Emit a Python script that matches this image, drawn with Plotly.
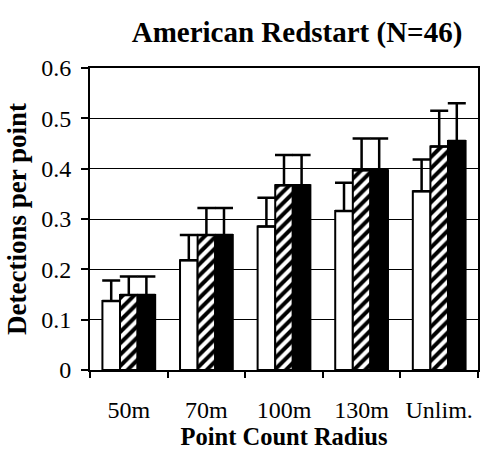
import plotly.graph_objects as go

categories = ["50m", "70m", "100m", "130m", "Unlim."]
series_names = ["Series A", "Series B", "Series C"]
values_a = [0.137, 0.218, 0.285, 0.316, 0.355]
upper_a = [0.178, 0.268, 0.342, 0.372, 0.418]
values_b = [0.149, 0.268, 0.367, 0.397, 0.444]
upper_b = [0.186, 0.322, 0.427, 0.460, 0.515]
values_c = [0.149, 0.268, 0.367, 0.397, 0.455]
upper_c = [0.186, 0.322, 0.427, 0.460, 0.530]
y_ticks = [0, 0.1, 0.2, 0.3, 0.4, 0.5, 0.6]
y_tick_labels = ["0", "0.1", "0.2", "0.3", "0.4", "0.5", "0.6"]

FONT = "Liberation Serif"

def err(vals, ups):
    return dict(type="data", symmetric=False,
                array=[u - v for u, v in zip(ups, vals)],
                arrayminus=[0] * len(vals),
                color="black", thickness=2.5, width=9)

fig = go.Figure()
fig.add_trace(go.Bar(x=categories, y=values_a, name=series_names[0],
                     marker=dict(color="white", line=dict(color="black", width=2)),
                     error_y=err(values_a, upper_a)))
fig.add_trace(go.Bar(x=categories, y=values_b, name=series_names[1],
                     marker=dict(color="white", line=dict(color="black", width=2),
                                 pattern=dict(shape="/", fgcolor="black", bgcolor="white",
                                              size=8, solidity=0.5, fillmode="replace")),
                     error_y=err(values_b, upper_b)))
fig.add_trace(go.Bar(x=categories, y=values_c, name=series_names[2],
                     marker=dict(color="black", line=dict(color="black", width=2)),
                     error_y=err(values_c, upper_c)))

fig.update_layout(
    width=480, height=454,
    margin=dict(l=90, r=2, t=68, b=84, autoexpand=False),
    paper_bgcolor="white", plot_bgcolor="white",
    barmode="group", bargap=0.32, bargroupgap=0,
    showlegend=False,
    font=dict(family=FONT, color="black", size=24),
    title=dict(text="<b>American Redstart (N=46)</b>", x=297 / 480, xanchor="center",
               y=1 - 32 / 454, yanchor="middle", xref="container", yref="container",
               font=dict(family=FONT, size=29, color="black")),
    xaxis=dict(type="category", categoryorder="array", categoryarray=categories,
               range=[-0.5, 4.5], automargin=False,
               showline=True, linecolor="black", linewidth=2, mirror=True,
               ticks="outside", tickson="boundaries", ticklen=6, tickwidth=1.5,
               tickcolor="black", ticklabelstandoff=17,
               tickfont=dict(family=FONT, size=24, color="black"),
               title=dict(text="<b>Point Count Radius</b>", standoff=5,
                          font=dict(family=FONT, size=24.5, color="black")),
               showgrid=False),
    xaxis2=dict(type="category", categoryorder="array", categoryarray=categories,
                overlaying="x", matches="x", side="bottom", anchor="y",
                showline=False, ticks="inside", tickson="boundaries", ticklen=5,
                tickwidth=1.5, tickcolor="black", showticklabels=False,
                showgrid=False),
    yaxis=dict(range=[0, 0.6], tickvals=y_ticks, ticktext=y_tick_labels,
               automargin=False,
               showline=True, linecolor="black", linewidth=2, mirror=True,
               ticks="outside", ticklen=7, tickwidth=1.5, tickcolor="black",
               ticklabelstandoff=5,
               tickfont=dict(family=FONT, size=24, color="black"),
               showgrid=True, gridcolor="black", gridwidth=1.2,
               zeroline=False,
               title=dict(text="<b>Detections per point</b>", standoff=7,
                          font=dict(family=FONT, size=27, color="black"))),
)

fig.write_html("out.html", config={"displayModeBar": False},
               post_script="document.body.style.margin='0';")
